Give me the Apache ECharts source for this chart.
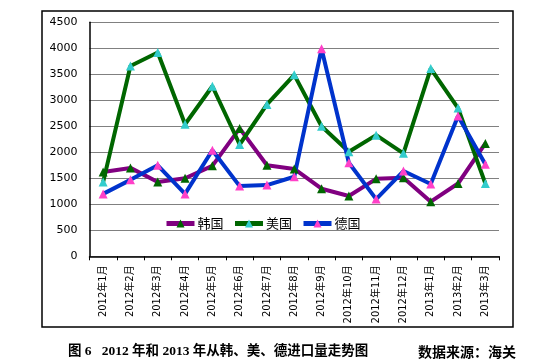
<!DOCTYPE html>
<html><head><meta charset="utf-8">
<script src="https://cdn.jsdelivr.net/npm/echarts@6/dist/echarts.min.js"></script>
<style>html,body{margin:0;padding:0;background:#fff;}#c{width:547px;height:364px;}</style>
</head><body><div id="c"></div>
<script>
const categories = ['2012年1月','2012年2月','2012年3月','2012年4月','2012年5月','2012年6月','2012年7月','2012年8月','2012年9月','2012年10月','2012年11月','2012年12月','2013年1月','2013年2月','2013年3月'];
const korea   = [1620,1700,1430,1500,1740,2460,1750,1680,1300,1160,1490,1510,1050,1400,2170];
const usa     = [1430,3660,3920,2540,3270,2150,2920,3490,2500,2010,2330,1980,3610,2850,1400];
const germany = [1200,1470,1750,1200,2040,1350,1370,1530,3990,1800,1100,1640,1390,2700,1770];
const seriesNames = ['韩国','美国','德国'];
const yTicks = [0,500,1000,1500,2000,2500,3000,3500,4000,4500];
const captionLeft = '图 6   2012 年和 2013 年从韩、美、德进口量走势图';
const captionRight = '数据来源：海关';

const chart = echarts.init(document.getElementById('c'));
function mk(name, data, lineColor, markColor){
  return {name, type:'line', data, symbol:'triangle', symbolSize:9,
    lineStyle:{color:lineColor, width:4}, itemStyle:{color:markColor, borderWidth:0},
    color: lineColor, animation:false};
}
chart.setOption({
  animation:false,
  grid:{left:89.5, right:48, top:22.3, bottom:107.7},
  graphic:[
    {type:'rect', shape:{x:42, y:11, width:471, height:316}, style:{fill:'none', stroke:'#000', lineWidth:1.5}, z:-10},
    {type:'text', left:68, top:345, style:{text:captionLeft, font:'bold 13.5px "Liberation Serif","Noto Sans CJK SC"', fill:'#000'}},
    {type:'text', left:418, top:345, style:{text:captionRight, font:'bold 14px "Noto Sans CJK SC"', fill:'#000'}}
  ],
  legend:{data:seriesNames, left:159, top:212, itemWidth:28, itemHeight:10, itemGap:9,
    lineStyle:{width:5},
    textStyle:{fontSize:13, color:'#000', fontFamily:'"Noto Sans CJK SC"', padding:[0,0,0,-2]}},
  xAxis:{type:'category', data:categories, boundaryGap:true,
    axisLine:{lineStyle:{color:'#000', width:1.5}},
    axisTick:{show:true, length:4, lineStyle:{color:'#000'}},
    axisLabel:{rotate:90, margin:9, fontSize:10, color:'#000', fontFamily:'"DejaVu Sans","Noto Sans CJK SC"', interval:0}},
  yAxis:{type:'value', min:yTicks[0], max:yTicks[yTicks.length-1], interval:500,
    axisLine:{show:true, lineStyle:{color:'#000', width:1.5}},
    axisTick:{show:false},
    splitLine:{lineStyle:{color:'#808080', width:1}},
    axisLabel:{fontSize:11, color:'#000', margin:12, fontFamily:'"DejaVu Sans"', formatter:v=>String(v)}},
  series:[
    mk(seriesNames[0], korea, '#800080', '#006600'),
    mk(seriesNames[1], usa, '#006600', '#33CCCC'),
    mk(seriesNames[2], germany, '#0033CC', '#FF40C8')
  ]
});
</script></body></html>
